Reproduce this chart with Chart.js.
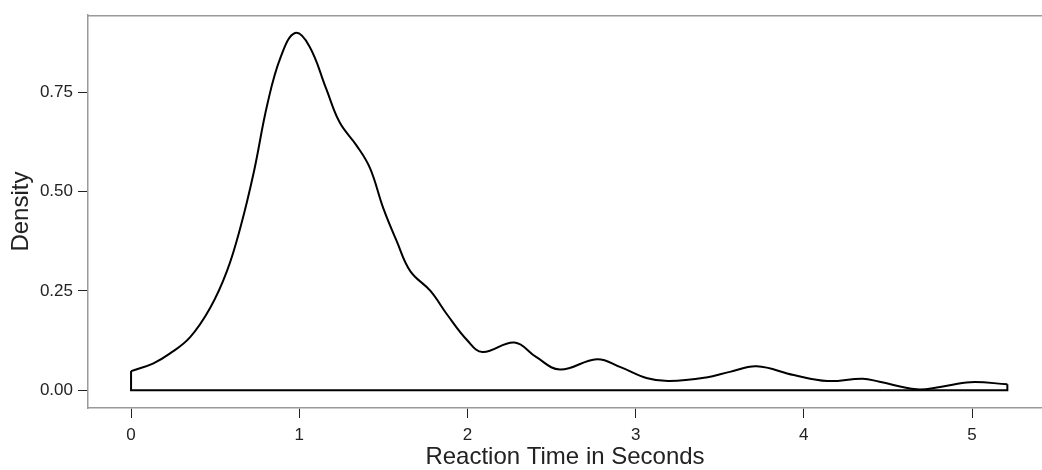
<!DOCTYPE html>
<html lang="en">
<head>
    <meta charset="UTF-8">
    <title>Reaction Time Density</title>
    <script src="https://cdn.jsdelivr.net/npm/chart.js"></script>
    <style>
        body { margin: 0; background: #fff; }
        #wrap { width: 1042px; height: 470px; position: relative; }
    </style>
</head>
<body>
<div id="wrap"><canvas id="densityPlot"></canvas></div>
<script>
    // --- Daten ---
    const timeX = [0, 0.13, 0.23, 0.35, 0.47, 0.57, 0.65, 0.73, 0.81, 0.89, 0.975, 1.06, 1.16, 1.24, 1.34, 1.42, 1.50,
                   1.58, 1.66, 1.78, 1.88, 2.00, 2.09, 2.28, 2.41, 2.55, 2.77, 2.91, 3.07, 3.20, 3.42, 3.56, 3.72,
                   3.94, 4.14, 4.35, 4.45, 4.67, 4.81, 4.99, 5.21];
    const densityY = [0.048, 0.067, 0.092, 0.133, 0.207, 0.30, 0.41, 0.55, 0.72, 0.84, 0.90, 0.867, 0.76, 0.675, 0.617, 0.56, 0.458,
                      0.375, 0.30, 0.25, 0.19, 0.125, 0.096, 0.12, 0.083, 0.052, 0.078, 0.058, 0.03, 0.023, 0.032, 0.046, 0.06,
                      0.038, 0.023, 0.029, 0.021, 0.002, 0.008, 0.02, 0.015];
    const xTicks = [0, 1, 2, 3, 4, 5];
    const yTicks = [0, 0.25, 0.5, 0.75];
    const yTickLabels = ['0.00', '0.25', '0.50', '0.75'];

    const curve = timeX.map((x, i) => ({ x: x, y: densityY[i] }));
    const last = timeX.length - 1;
    // geschlossene Fläche: senkrechte Kanten + Grundlinie bei 0
    const outline = [
        { x: timeX[0], y: densityY[0] },
        { x: timeX[0], y: 0 },
        { x: timeX[last], y: 0 },
        { x: timeX[last], y: densityY[last] }
    ];

    // Rahmen oben (rechts liegt außerhalb des Bildes)
    const frame = {
        id: 'frame',
        beforeDatasetsDraw(chart) {
            const a = chart.chartArea, c = chart.ctx;
            c.save();
            c.strokeStyle = '#9a9a9a';
            c.lineWidth = 1.5;
            c.beginPath();
            c.moveTo(a.left, a.top + 0.5);
            c.lineTo(a.right, a.top + 0.5);
            c.stroke();
            c.restore();
        }
    };

    new Chart(document.getElementById('densityPlot'), {
        type: 'scatter',
        data: {
            datasets: [{
                data: curve,
                showLine: true,
                borderColor: '#000',
                borderWidth: 2,
                pointRadius: 0,
                tension: 0.4,
                fill: false
            }, {
                data: outline,
                showLine: true,
                borderColor: '#000',
                borderWidth: 2,
                pointRadius: 0,
                tension: 0,
                fill: false
            }]
        },
        options: {
            responsive: true,
            maintainAspectRatio: false,
            animation: false,
            layout: { padding: { top: 12, right: 0, left: 0, bottom: 0 } },
            plugins: { legend: { display: false }, tooltip: { enabled: false } },
            scales: {
                x: {
                    type: 'linear',
                    min: -0.256,
                    max: 5.416,
                    afterBuildTicks: s => { s.ticks = xTicks.map(v => ({ value: v })); },
                    afterFit: s => { s.height = 62; },
                    grid: { drawOnChartArea: false, drawTicks: true, tickLength: 10, color: '#222', lineWidth: 1 },
                    border: { display: true, color: '#9a9a9a', width: 1.5 },
                    ticks: { color: '#222', font: { family: 'Liberation Sans', size: 17 }, padding: 7 },
                    title: { display: true, text: 'Reaction Time in Seconds', color: '#222',
                             font: { family: 'Liberation Sans', size: 24, lineHeight: 1 }, padding: { top: 0, bottom: 1 } }
                },
                y: {
                    min: -0.045,
                    max: 0.945,
                    afterBuildTicks: s => { s.ticks = yTicks.map(v => ({ value: v })); },
                    afterFit: s => { s.width = 88; },
                    grid: { drawOnChartArea: false, drawTicks: true, tickLength: 10, color: '#222', lineWidth: 1 },
                    border: { display: true, color: '#9a9a9a', width: 1.5 },
                    ticks: {
                        color: '#222',
                        font: { family: 'Liberation Sans', size: 17 },
                        padding: 5,
                        callback: (v, i) => yTickLabels[i]
                    },
                    title: { display: true, text: 'Density', color: '#222',
                             font: { family: 'Liberation Sans', size: 24 }, padding: { top: 7, bottom: 0 } }
                }
            }
        },
        plugins: [frame]
    });
</script>
</body>
</html>
